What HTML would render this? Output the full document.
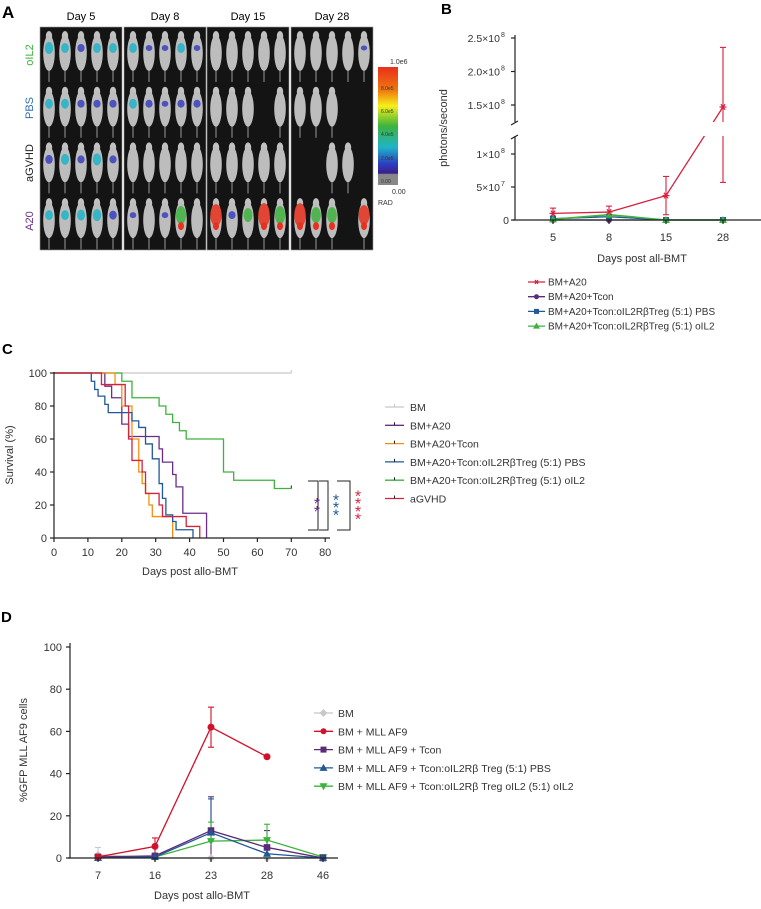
<!DOCTYPE html>
<html><head><meta charset="utf-8"><style>
body{margin:0;background:#fff;width:761px;height:904px;overflow:hidden;font-family:"Liberation Sans",sans-serif}
svg text{font-family:"Liberation Sans","DejaVu Sans",sans-serif}
</style></head><body>
<svg id="s" width="761" height="904" viewBox="0 0 761 904">
<defs>
<linearGradient id="cb" x1="0" y1="0" x2="0" y2="1">
<stop offset="0" stop-color="#e8301c"/><stop offset="0.2" stop-color="#f07a10"/><stop offset="0.33" stop-color="#f5f01a"/>
<stop offset="0.5" stop-color="#3db33d"/><stop offset="0.68" stop-color="#1fb4c8"/><stop offset="0.82" stop-color="#2d3fbf"/>
<stop offset="0.9" stop-color="#3a1f8a"/><stop offset="0.91" stop-color="#888"/><stop offset="1" stop-color="#888"/>
</linearGradient>
</defs>
<!-- Panel A -->
<g id="pa">
<text x="2" y="18" font-size="17" font-weight="bold">A</text>
<text x="81" y="20" font-size="11" text-anchor="middle">Day 5</text>
<text x="165" y="20" font-size="11" text-anchor="middle">Day 8</text>
<text x="248" y="20" font-size="11" text-anchor="middle">Day 15</text>
<text x="332" y="20" font-size="11" text-anchor="middle">Day 28</text>
<text transform="translate(33,55) rotate(-90)" font-size="11" fill="#3db33d" text-anchor="middle">oIL2</text>
<text transform="translate(33,108) rotate(-90)" font-size="11" fill="#2c6fb0" text-anchor="middle">PBS</text>
<text transform="translate(33,163) rotate(-90)" font-size="11" fill="#222" text-anchor="middle">aGVHD</text>
<text transform="translate(33,221) rotate(-90)" font-size="11" fill="#6b2d8a" text-anchor="middle">A20</text>
<rect x="378" y="67" width="20" height="118" fill="url(#cb)"/>
<text x="390" y="64" font-size="7" fill="#333">1.0e6</text>
<text x="381" y="90" font-size="5" fill="#333">8.0e5</text>
<text x="381" y="113" font-size="5" fill="#333">6.0e5</text>
<text x="381" y="136" font-size="5" fill="#333">4.0e5</text>
<text x="381" y="160" font-size="5" fill="#333">2.0e5</text>
<text x="381" y="183" font-size="5" fill="#333">0.00</text>
<text x="392" y="194" font-size="7" fill="#333">0.00</text>
<text x="378" y="205" font-size="7" fill="#333">RAD</text>
</g>
<!-- Panel B -->
<g id="pb">
<text x="441" y="14" font-size="15" font-weight="bold">B</text>
<text transform="translate(447,128) rotate(-90)" font-size="11" fill="#333" text-anchor="middle">photons/second</text>
<text x="642" y="262" font-size="11" fill="#333" text-anchor="middle">Days post all-BMT</text>
</g>
<!-- Panel C -->
<g id="pc">
<text x="2" y="354" font-size="15" font-weight="bold">C</text>
<text transform="translate(13,455) rotate(-90)" font-size="11" fill="#333" text-anchor="middle">Survival (%)</text>
<text x="190" y="575" font-size="11" fill="#333" text-anchor="middle">Days post allo-BMT</text>
</g>
<!-- Panel D -->
<g id="pd">
<text x="1" y="622" font-size="15" font-weight="bold">D</text>
<text transform="translate(27,750) rotate(-90)" font-size="11" fill="#333" text-anchor="middle">%GFP MLL AF9 cells</text>
<text x="202" y="899" font-size="11" fill="#333" text-anchor="middle">Days post allo-BMT</text>
</g>
</svg>
<script>
const NS="http://www.w3.org/2000/svg";
function mk(parent,tag,attrs){const e=document.createElementNS(NS,tag);for(const k in attrs)e.setAttribute(k,attrs[k]);parent.appendChild(e);return e;}

// ---------- Panel A (imaging) ----------
const aDays=["Day 5","Day 8","Day 15","Day 28"];
const aRows=["oIL2","PBS","aGVHD","A20"];
const aPresent=[
 [[1,1,1,1,1],[1,1,1,1,1],[1,1,1,1,1],[1,1,1,1,1]],
 [[1,1,1,1,1],[1,1,1,1,1],[1,1,1,1,1],[1,1,1,1,1]],
 [[1,1,1,1,1],[1,1,1,0,1],[1,1,1,1,1],[1,1,1,1,1]],
 [[1,1,1,1,1],[1,1,1,0,0],[0,0,1,1,0],[1,1,1,0,1]]];
const aSignal=[
 [[0.4,0.3,0.2,0.3,0.3],[0.3,0.3,0.2,0.2,0.2],[0.25,0.35,0.2,0.4,0.2],[0.3,0.3,0.35,0.4,0.25]],
 [[0.3,0.1,0.1,0.3,0.1],[0.3,0.2,0.1,0.2,0.2],[0,0,0,0,0],[0.1,0,0.1,0.7,0]],
 [[0,0,0,0,0],[0,0,0,0,0],[0,0,0,0,0],[0.9,0.2,0.5,1,0.7]],
 [[0,0,0,0,0.05],[0,0,0,0,0],[0,0,0,0,0],[1,0.6,0.6,0,0.8]]];
const pa=document.getElementById('pa');
const gX=[40,124,207,291], gW=82, gY=27, rowH=55.7;
aDays.forEach((d,gi)=>{
  const r=mk(pa,'rect',{x:gX[gi],y:gY,width:gW,height:223,fill:'#141414',stroke:'#999','stroke-width':0.6});
  
  
  aRows.forEach((row,ri)=>{
    for(let m=0;m<5;m++){
      if(!aPresent[gi][ri][m]) continue;
      const cx=gX[gi]+9+m*16, cy=gY+ri*rowH+24;
      const g=mk(pa,'g',{});
      
      
      mk(g,'line',{x1:cx,y1:cy+20,x2:cx,y2:cy+31,stroke:'#999','stroke-width':1});
      mk(g,'ellipse',{cx:cx,cy:cy-15,rx:3.2,ry:5,fill:'#c2c2c2'});
      mk(g,'ellipse',{cx:cx,cy:cy+2,rx:5.8,ry:18,fill:'#bdbdbd'});
      const s=aSignal[gi][ri][m];
      if(s>0){
        const col=s>0.75?'#e8301c':s>0.45?'#3db33d':s>0.25?'#1fb4c8':'#3a3fbf';
        mk(g,'ellipse',{cx:cx,cy:cy-3,rx:Math.min(5.8,3+s*3),ry:2+s*10,fill:col,opacity:0.85});
        if(s>0.5) mk(g,'ellipse',{cx:cx,cy:cy+8,rx:3,ry:4,fill:'#e8301c'});
      }
    }
  });
});

// ---------- Panel B ----------
const bDays=[5,8,15,28];
const bA20=[1.0e7,1.2e7,3.7e7,1.47e8];
const bA20Lo=[2e6,3e6,0.8e7,5.7e7];
const bA20Hi=[1.8e7,2.1e7,6.6e7,2.36e8];
const bTcon=[0,0,0,0];
const bPBS=[2e6,5e6,0,0];
const bOIL2=[1e6,8e6,0,0];
const bTicksLo=[0,5e7,1e8], bTickLoLbl=["0","5×10","1×10"], bTickLoExp=["","7","8"];
const bTicksHi=[1.5e8,2.0e8,2.5e8], bTickHiLbl=["1.5×10","2.0×10","2.5×10"];
const bXpos={5:553,8:609,15:666,28:723};
function bx(d){return bXpos[d];}
function by(v){return v<=1.3e8?220-v*66/1e8:105-(v-1.5e8)*67/1e8;}
const pb=document.getElementById('pb');
function series(parent,xs,ys,col,name,xf,yf,w){
  const p=mk(parent,'polyline',{points:xs.map((x,i)=>xf(x)+','+yf(ys[i])).join(' '),fill:'none',stroke:col,'stroke-width':w||1.3});
  
  
}
function errbar(parent,x,lo,hi,col,yf,name){
  const g=mk(parent,'g',{stroke:col,'stroke-width':1.1});
  
  
  mk(g,'line',{x1:x,y1:yf(lo),x2:x,y2:yf(hi)});
  mk(g,'line',{x1:x-3,y1:yf(lo),x2:x+3,y2:yf(lo)});
  mk(g,'line',{x1:x-3,y1:yf(hi),x2:x+3,y2:yf(hi)});
}
function marker(parent,type,x,y,col,sz,name){
  let e;
  if(type==='circle') e=mk(parent,'circle',{cx:x,cy:y,r:sz,fill:col});
  else if(type==='square') e=mk(parent,'rect',{x:x-sz,y:y-sz,width:2*sz,height:2*sz,fill:col});
  else if(type==='tri') e=mk(parent,'polygon',{points:`${x},${y-sz-1} ${x-sz-1},${y+sz} ${x+sz+1},${y+sz}`,fill:col});
  else if(type==='dtri') e=mk(parent,'polygon',{points:`${x},${y+sz+1} ${x-sz-1},${y-sz} ${x+sz+1},${y-sz}`,fill:col});
  else if(type==='diamond') e=mk(parent,'polygon',{points:`${x},${y-sz-1} ${x+sz+1},${y} ${x},${y+sz+1} ${x-sz-1},${y}`,fill:col});
  else { e=mk(parent,'g',{stroke:col,'stroke-width':1.2});
    mk(e,'line',{x1:x-sz,y1:y,x2:x+sz,y2:y});mk(e,'line',{x1:x-sz*0.6,y1:y-sz*0.8,x2:x+sz*0.6,y2:y+sz*0.8});mk(e,'line',{x1:x-sz*0.6,y1:y+sz*0.8,x2:x+sz*0.6,y2:y-sz*0.8});}
  
  
}
bDays.forEach((d,i)=>errbar(pb,bx(d),bA20Lo[i],bA20Hi[i],'#d6213f',by,'b-a20-errorbar'));
series(pb,bDays,bA20,'#d6213f','b-line-a20',bx,by);
series(pb,bDays,bTcon,'#5b2a78','b-line-tcon',bx,by);
series(pb,bDays,bPBS,'#1f5a96','b-line-pbs',bx,by);
series(pb,bDays,bOIL2,'#3db33d','b-line-oil2',bx,by,1.6);
bDays.forEach((d,i)=>{
  marker(pb,'circle',bx(d),by(bTcon[i]),'#5b2a78',3,'b-point-tcon');
  marker(pb,'square',bx(d),by(bPBS[i]),'#1f5a96',3,'b-point-pbs');
  marker(pb,'tri',bx(d),by(bOIL2[i]),'#3db33d',3,'b-point-oil2');
  marker(pb,'star',bx(d),by(bA20[i]),'#d6213f',3.5,'b-point-a20');
});
mk(pb,'rect',{x:516,y:122,width:245,height:14,fill:'#fff'});
const bAxis=mk(pb,'g',{stroke:'#222','stroke-width':1.2});


mk(bAxis,'line',{x1:515,y1:35,x2:515,y2:122});
mk(bAxis,'line',{x1:515,y1:136,x2:515,y2:220});
mk(bAxis,'line',{x1:513,y1:220,x2:761,y2:220});
mk(bAxis,'line',{x1:511,y1:125,x2:518,y2:121});
mk(bAxis,'line',{x1:511,y1:139,x2:518,y2:135});
function bTick(v,lbl,exp){
  const y=by(v);
  mk(bAxis,'line',{x1:511,y1:y,x2:515,y2:y});
  const t=mk(pb,'text',{x:exp?500:509,y:y+4,'font-size':10.5,fill:'#333','text-anchor':'end'});
  t.textContent=lbl;
  
  
  if(exp){const e=mk(pb,'text',{x:501,y:y-1,'font-size':7,fill:'#333'});e.textContent=exp;}
}
bTicksLo.forEach((v,i)=>bTick(v,bTickLoLbl[i],bTickLoExp[i]));
bTicksHi.forEach((v,i)=>bTick(v,bTickHiLbl[i],"8"));
bDays.forEach(d=>{
  mk(bAxis,'line',{x1:bx(d),y1:220,x2:bx(d),y2:224});
  const t=mk(pb,'text',{x:bx(d),y:241,'font-size':11,fill:'#333','text-anchor':'middle'});
  t.textContent=d;
  
  
});
const bLeg=["BM+A20","BM+A20+Tcon","BM+A20+Tcon:oIL2RβTreg (5:1) PBS","BM+A20+Tcon:oIL2RβTreg (5:1) oIL2"];
const bLegC=['#d6213f','#5b2a78','#1f5a96','#3db33d'], bLegM=['star','circle','square','tri'];
bLeg.forEach((l,i)=>{
  const y=282+i*14.7;
  const g=mk(pb,'g',{});
  
  
  mk(g,'line',{x1:528,y1:y,x2:545,y2:y,stroke:bLegC[i],'stroke-width':1.3});
  marker(g,bLegM[i],536.5,y,bLegC[i],2.5,'b-legend-marker');
  const t=mk(g,'text',{x:548,y:y+3.5,'font-size':10,fill:'#333'});t.textContent=l;
});

// ---------- Panel C (Kaplan-Meier) ----------
const cBMt=[0,70], cBMs=[100,100];
const cA20t=[0,15,17,20,22,31,32,35,36,38,45], cA20s=[100,92,85,69,61.5,54,46,38.5,31,15,0];
const cTcont=[0,18,20,23,25,26,27,28,29,35], cTcons=[100,93,80,60,40,33,27,20,13,0];
const cPBSt=[0,11,12,13,15,16,23,25,27,29,31,32,33,35,36,41], cPBSs=[100,95,90,86,81,76,71,67,57,48,33,24,14,10,5,0];
const cOILt=[0,20,23,31,33,35,37,39,50,53,65,70], cOILs=[100,95,85,80,75,70,65,60,40,35,30,30];
const cGVt=[0,14,21,22,23,26,27,31,32,39,43], cGVs=[100,93,80,60,47,40,27,20,13,7,0];
const cXticks=[0,10,20,30,40,50,60,70,80], cYticks=[0,20,40,60,80,100];
const pc=document.getElementById('pc');
function cx(t){return 54+t*3.39;}
function cy(s){return 538-s*1.65;}
function km(t,s,col,name,w){
  let pts=[];
  for(let i=0;i<t.length;i++){ if(i>0) pts.push(cx(t[i])+','+cy(s[i-1])); pts.push(cx(t[i])+','+cy(s[i])); }
  const p=mk(pc,'polyline',{points:pts.join(' '),fill:'none',stroke:col,'stroke-width':w||1.3});
  
  
}
km(cBMt,cBMs,'#c8c8c8','c-curve-bm');
km(cOILt,cOILs,'#3db33d','c-curve-oil2');
km(cA20t,cA20s,'#6b2d8a','c-curve-a20');
km(cTcont,cTcons,'#f29111','c-curve-tcon');
km(cPBSt,cPBSs,'#1f5a96','c-curve-pbs');
km(cGVt,cGVs,'#d6213f','c-curve-agvhd');
mk(pc,'line',{x1:cx(70),y1:cy(100)-3,x2:cx(70),y2:cy(100),stroke:'#c8c8c8'});
mk(pc,'line',{x1:cx(70),y1:cy(30)-3,x2:cx(70),y2:cy(30),stroke:'#222'});
const cAx=mk(pc,'g',{stroke:'#222','stroke-width':1.2});


mk(cAx,'line',{x1:54,y1:372,x2:54,y2:538});
mk(cAx,'line',{x1:54,y1:538,x2:330,y2:538});
cYticks.forEach(v=>{mk(cAx,'line',{x1:50,y1:cy(v),x2:54,y2:cy(v)});
  const t=mk(pc,'text',{x:47,y:cy(v)+4,'font-size':11,fill:'#333','text-anchor':'end'});t.textContent=v;
  
  });
cXticks.forEach(v=>{mk(cAx,'line',{x1:cx(v),y1:538,x2:cx(v),y2:542});
  const t=mk(pc,'text',{x:cx(v),y:556,'font-size':11,fill:'#333','text-anchor':'middle'});t.textContent=v;
  
  });
const brk=[[308,318,317,'**','#6b2d8a'],[319,328,336,'***','#1f5a96'],[337,350,358,'****','#d6213f']];
brk.forEach(b=>{
  const g=mk(pc,'g',{});
  
  
  mk(g,'polyline',{points:`${b[0]},481 ${b[1]},481 ${b[1]},530 ${b[0]},530`,fill:'none',stroke:'#222','stroke-width':1});
  const n=b[3].length;
  for(let k=0;k<n;k++){const t=mk(g,'text',{x:b[2],y:505-(n-1)*3.8+k*7.6+8,'font-size':16,fill:b[4],'text-anchor':'middle'});t.textContent='*';}
});
const cLeg=["BM","BM+A20","BM+A20+Tcon","BM+A20+Tcon:oIL2RβTreg (5:1) PBS","BM+A20+Tcon:oIL2RβTreg (5:1) oIL2","aGVHD"];
const cLegC=['#c8c8c8','#6b2d8a','#f29111','#1f5a96','#3db33d','#d6213f'];
cLeg.forEach((l,i)=>{
  const y=407+i*18.3;
  const g=mk(pc,'g',{});
  
  
  mk(g,'line',{x1:385,y1:y,x2:404,y2:y,stroke:cLegC[i],'stroke-width':1.3});
  mk(g,'line',{x1:394.5,y1:y-3,x2:394.5,y2:y,stroke:i?'#222':'#c8c8c8'});
  const t=mk(g,'text',{x:410,y:y+4,'font-size':10.5,fill:'#333'});t.textContent=l;
});

// ---------- Panel D ----------
const dDays=[7,16,23,28,46];
const dBM=[1.5,0,0,0,0], dBMhi=[5,0,0,0,0];
const dMLL=[0.5,5.5,62,48], dMLLlo=[0,2,52.5,48], dMLLhi=[1,9.5,71.5,48];
const dTcon=[0.5,1,13,5,0], dTconhi=[0.5,1,29,13,0];
const dPBS=[0,0.5,12,2,0], dPBShi=[0,0.5,28,2,0];
const dOIL=[0,0.5,8,8.5,0.5], dOILhi=[0,0.5,17,16,1];
const dYticks=[0,20,40,60,80,100];
const dXpos={7:98,16:155,23:211,28:267,46:323};
function dx(d){return dXpos[d];}
function dy(v){return 858-v*2.11;}
const pd=document.getElementById('pd');
dDays.forEach((d,i)=>{
  if(dTconhi[i]>dTcon[i]) errbar(pd,dx(d),0,dTconhi[i],'#5b2a78',dy,'d-tcon-errorbar');
  if(dPBShi[i]>dPBS[i]) errbar(pd,dx(d),dPBS[i],dPBShi[i],'#1f5a96',dy,'d-pbs-errorbar');
  if(dOILhi[i]>dOIL[i]) errbar(pd,dx(d),dOIL[i],dOILhi[i],'#3db33d',dy,'d-oil2-errorbar');
  if(dBMhi[i]>dBM[i]) errbar(pd,dx(d),0,dBMhi[i],'#c8c8c8',dy,'d-bm-errorbar');
});
dMLL.forEach((v,i)=>{ if(dMLLhi[i]>v) errbar(pd,dx(dDays[i]),dMLLlo[i],dMLLhi[i],'#d0112b',dy,'d-mll-errorbar'); });
series(pd,dDays,dBM,'#c8c8c8','d-line-bm',dx,dy);
series(pd,dDays,dOIL,'#3db33d','d-line-oil2',dx,dy);
series(pd,dDays,dTcon,'#5b2a78','d-line-tcon',dx,dy);
series(pd,dDays,dPBS,'#1f5a96','d-line-pbs',dx,dy);
series(pd,dDays.slice(0,dMLL.length),dMLL,'#d0112b','d-line-mll',dx,dy);
dDays.forEach((d,i)=>{
  marker(pd,'diamond',dx(d),dy(dBM[i]),'#c8c8c8',3,'d-point-bm');
  marker(pd,'dtri',dx(d),dy(dOIL[i]),'#3db33d',3,'d-point-oil2');
  marker(pd,'square',dx(d),dy(dTcon[i]),'#5b2a78',3.3,'d-point-tcon');
  marker(pd,'tri',dx(d),dy(dPBS[i]),'#1f5a96',3,'d-point-pbs');
});
dMLL.forEach((v,i)=>marker(pd,'circle',dx(dDays[i]),dy(v),'#d0112b',3.5,'d-point-mll'));
const dAx=mk(pd,'g',{stroke:'#222','stroke-width':1.2});


mk(dAx,'line',{x1:70,y1:643,x2:70,y2:858});
mk(dAx,'line',{x1:68,y1:858,x2:338,y2:858});
dYticks.forEach(v=>{mk(dAx,'line',{x1:66,y1:dy(v),x2:70,y2:dy(v)});
  const t=mk(pd,'text',{x:62,y:dy(v)+4,'font-size':11,fill:'#333','text-anchor':'end'});t.textContent=v;
  
  });
dDays.forEach(d=>{mk(dAx,'line',{x1:dx(d),y1:858,x2:dx(d),y2:862});
  const t=mk(pd,'text',{x:dx(d),y:879,'font-size':11,fill:'#333','text-anchor':'middle'});t.textContent=d;
  
  });
const dLeg=["BM","BM + MLL AF9","BM + MLL AF9 + Tcon","BM + MLL AF9 + Tcon:oIL2Rβ Treg (5:1) PBS","BM + MLL AF9 + Tcon:oIL2Rβ Treg oIL2 (5:1) oIL2"];
const dLegC=['#c8c8c8','#d0112b','#5b2a78','#1f5a96','#3db33d'], dLegM=['diamond','circle','square','tri','dtri'];
dLeg.forEach((l,i)=>{
  const y=713+i*18.3;
  const g=mk(pd,'g',{});
  
  
  mk(g,'line',{x1:314,y1:y,x2:333,y2:y,stroke:dLegC[i],'stroke-width':1.3});
  marker(g,dLegM[i],323.5,y,dLegC[i],3,'d-legend-marker');
  const t=mk(g,'text',{x:338,y:y+4,'font-size':10.5,fill:'#333'});t.textContent=l;
});
</script>
</body></html>
